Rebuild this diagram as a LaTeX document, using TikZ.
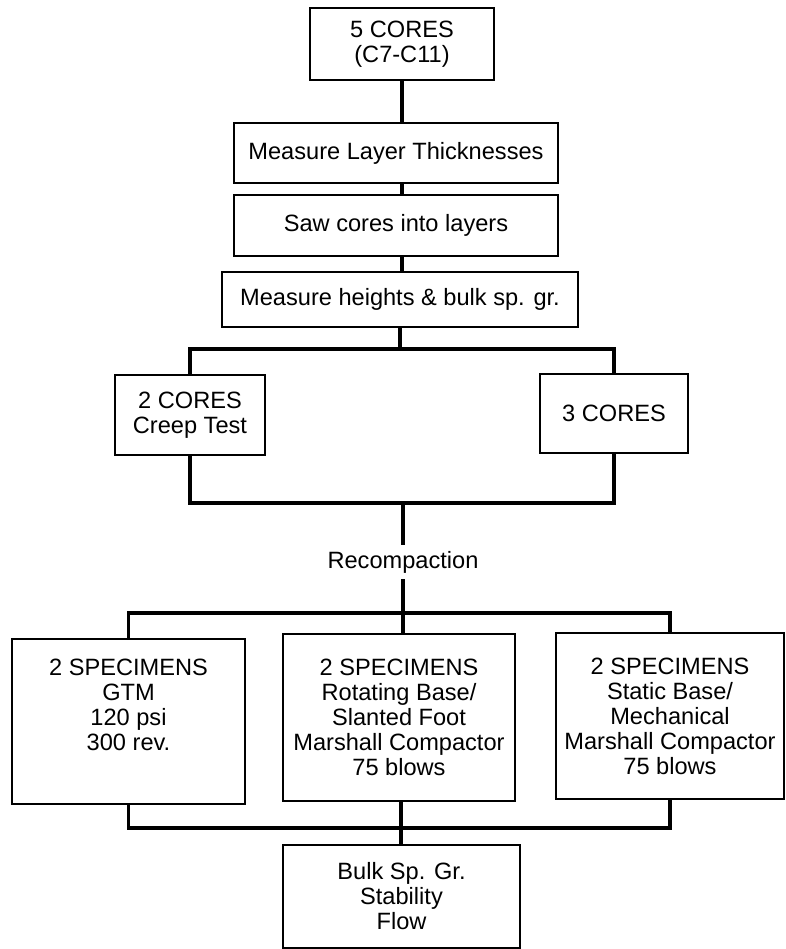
\documentclass[tikz,border=0pt]{standalone}
\usepackage{fontspec}
\setmainfont{Liberation Sans}
\newcommand{\fsz}{\fontsize{23.6}{25}\selectfont}
\begin{document}
\begin{tikzpicture}[x=1pt,y=-1pt,
  box/.style={draw, line width=2.4pt, inner sep=0pt, align=center, font=\fsz},
  conn/.style={line width=3.2pt}]
\useasboundingbox (0,0) rectangle (785,949);
% boxes
\node[box, minimum width=184, minimum height=72] (top) at (402,44) {5 CORES\\(C7-C11)};
\node[box, minimum width=324, minimum height=60] (ml) at (396,153) {Measure Layer Thicknesses};
\node[box, minimum width=324, minimum height=61] (saw) at (396,225.5) {Saw cores into layers};
\node[box, minimum width=356, minimum height=55] (mh) at (400,299.5) {Measure heights \& bulk sp. gr.};
\node[box, minimum width=150, minimum height=80] (c2) at (190,415) {2 CORES\\Creep Test};
\node[box, minimum width=148, minimum height=79] (c3) at (614,413.5) {3 CORES};
\node[font=\fsz, inner sep=6pt] (rec) at (403,562) {Recompaction};
\node[box, minimum width=233, minimum height=165] (s1) at (128.5,721.5) {2 SPECIMENS\\GTM\\120 psi\\300 rev.\\\strut};
\node[box, minimum width=232, minimum height=167] (s2) at (399,717.5) {2 SPECIMENS\\Rotating Base/\\Slanted Foot\\Marshall Compactor\\75 blows};
\node[box, minimum width=228, minimum height=166] (s3) at (670,716) {2 SPECIMENS\\Static Base/\\Mechanical\\Marshall Compactor\\75 blows};
\node[box, minimum width=237, minimum height=103] (bulk) at (401.5,896.5) {Bulk Sp. Gr.\\Stability\\Flow};
% bar coordinates
\coordinate (b1) at (400,349);
\coordinate (b2) at (403,503);
\coordinate (b3) at (403,613);
\coordinate (b4) at (401,828);
% connectors
\draw[conn] (top.south) -- (top.south |- ml.north);
\draw[conn] (ml.south -| top.south) -- (top.south |- saw.north);
\draw[conn] (saw.south -| top.south) -- (top.south |- mh.north);
\draw[conn] (mh.south) -- (b1);
\draw[conn] (c2.north) |- (b1) -| (c3.north);
\draw[conn] (c2.south) |- (b2) -| (c3.south);
\draw[conn] (b2) -- (rec.north);
\draw[conn] (rec.south) -- (b3);
\draw[conn] (s1.north) |- (b3) -| (s3.north);
\draw[conn] (b3) -- (b3 |- s2.north);
\draw[conn] (s1.south) |- (b4) -| (s3.south);
\draw[conn] (b4 |- s2.south) -- (b4);
\draw[conn] (b4) -- (b4 |- bulk.north);
\end{tikzpicture}
\end{document}
